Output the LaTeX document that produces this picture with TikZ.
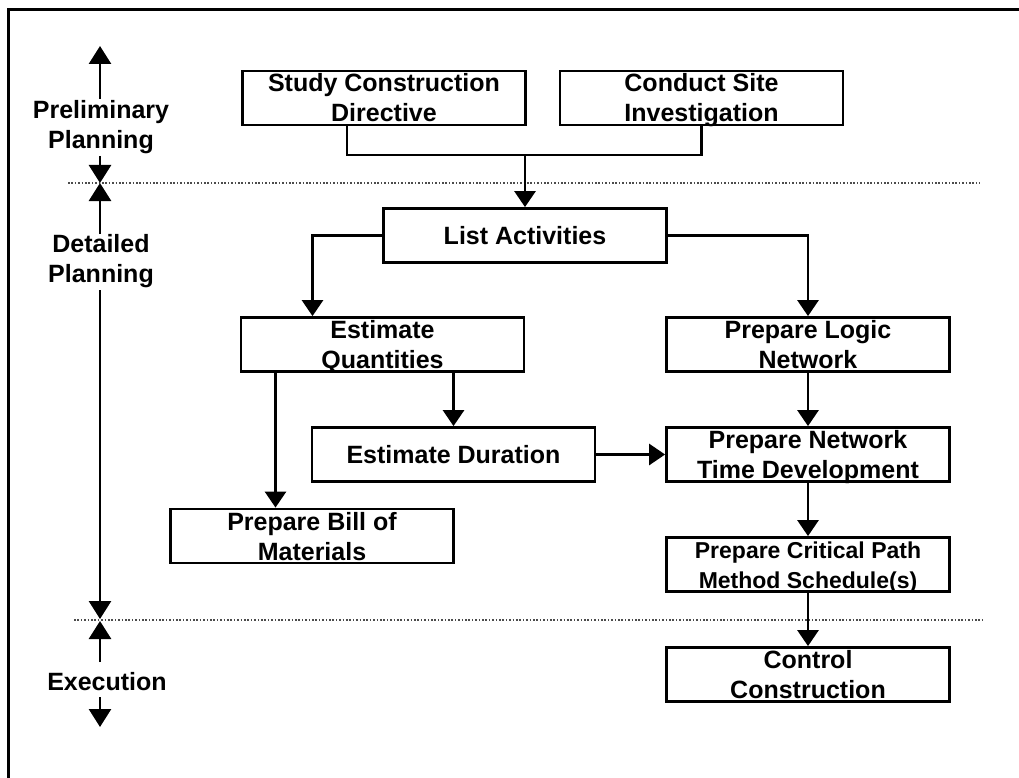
\documentclass[tikz,border=0pt]{standalone}
\usepackage{fontspec}
\setmainfont{Liberation Sans}
\usetikzlibrary{arrows.meta}
\begin{document}
\begin{tikzpicture}[x=1pt,y=-1pt,
  txt/.style={font=\fontsize{25}{30}\selectfont\bfseries, align=center, inner sep=0pt},
  stepbox/.style={txt, draw, line width=2.8pt, minimum width=283pt, minimum height=54pt},
  oneline/.style={text height=18pt, text depth=0pt},
  twoline/.style={text height=48pt, text depth=0pt},
  link/.style={line width=2.8pt},
  arr/.style={line width=2.8pt, -{Triangle[width=21pt,length=16pt]}},
  axisarr/.style={line width=2.8pt, -{Triangle[width=22pt,length=18pt]}},
  dotline/.style={line width=1.6pt, black!70, dash pattern=on 1.6pt off 1.8pt}]
\useasboundingbox (0,0) rectangle (1019,778);
\fill[white] (0,0) rectangle (1019,778);
% open frame along the left and top edges
\draw[line width=3pt] (8,778) -- (8,10) -- (1019,10);

% phase separators
\draw[dotline] (68,183) -- (980,183);
\draw[dotline] (74,620) -- (985,620);

% activity boxes
\node[stepbox, twoline] (scd)  at (384,98)    {Study Construction\\Directive};
\node[stepbox, twoline] (csi)  at (701.5,98)  {Conduct Site\\Investigation};
\node[stepbox, oneline] (la)   at (525,235.5) {List Activities};
\node[stepbox, twoline] (eq)   at (382.5,344.5) {Estimate\\Quantities};
\node[stepbox, twoline] (pln)  at (808,344.5) {Prepare Logic\\Network};
\node[stepbox, oneline] (ed)   at (453.5,454.5) {Estimate Duration};
\node[stepbox, twoline] (pntd) at (808,454.5) {Prepare Network\\Time Development};
\node[stepbox, twoline] (pbm)  at (312,536)   {Prepare Bill of\\Materials};
\node[stepbox, twoline, font=\fontsize{23}{30}\selectfont\bfseries] (pcpm) at (808,564.5) {Prepare Critical Path\\Method Schedule(s)};
\node[stepbox, twoline] (cc)   at (808,674.5) {Control\\Construction};

% connectors
\coordinate (j1) at (525,155);
\draw[link] ([xshift=-37pt]scd.south) |- (j1) -| (csi.south);
\draw[arr] (j1) -- (la.north);
\draw[arr] (la.west) -| ([xshift=-70pt]eq.north);
\draw[arr] (la.east) -| (pln.north);
\draw[arr] (eq.south -| ed.north) -- (ed.north);
\draw[arr] ([xshift=-107pt]eq.south) -- ([xshift=-107pt]eq.south |- pbm.north);
\draw[arr] (ed.east) -- (pntd.west);
\draw[arr] (pln.south) -- (pntd.north);
\draw[arr] (pntd.south) -- (pcpm.north);
\draw[arr] (pcpm.south) -- (cc.north);

% phase labels
\node[txt, twoline] (prel) at (101,125) {Preliminary\\Planning};
\node[txt, twoline] (det)  at (101,258) {Detailed\\Planning};
\node[txt, oneline] (exe)  at (107,681) {Execution};

% phase extent arrows
\coordinate (a1s) at (100,99);  \coordinate (a1e) at (100,46);
\coordinate (a2s) at (100,156); \coordinate (a2e) at (100,183);
\coordinate (a3s) at (100,234); \coordinate (a3e) at (100,183);
\coordinate (a4s) at (100,290); \coordinate (a4e) at (100,619);
\coordinate (a5s) at (100,662); \coordinate (a5e) at (100,621);
\coordinate (a6s) at (100,697); \coordinate (a6e) at (100,727);
\draw[axisarr] (a1s) -- (a1e);
\draw[axisarr] (a2s) -- (a2e);
\draw[axisarr] (a3s) -- (a3e);
\draw[axisarr] (a4s) -- (a4e);
\draw[axisarr] (a5s) -- (a5e);
\draw[axisarr] (a6s) -- (a6e);
\end{tikzpicture}
\end{document}
